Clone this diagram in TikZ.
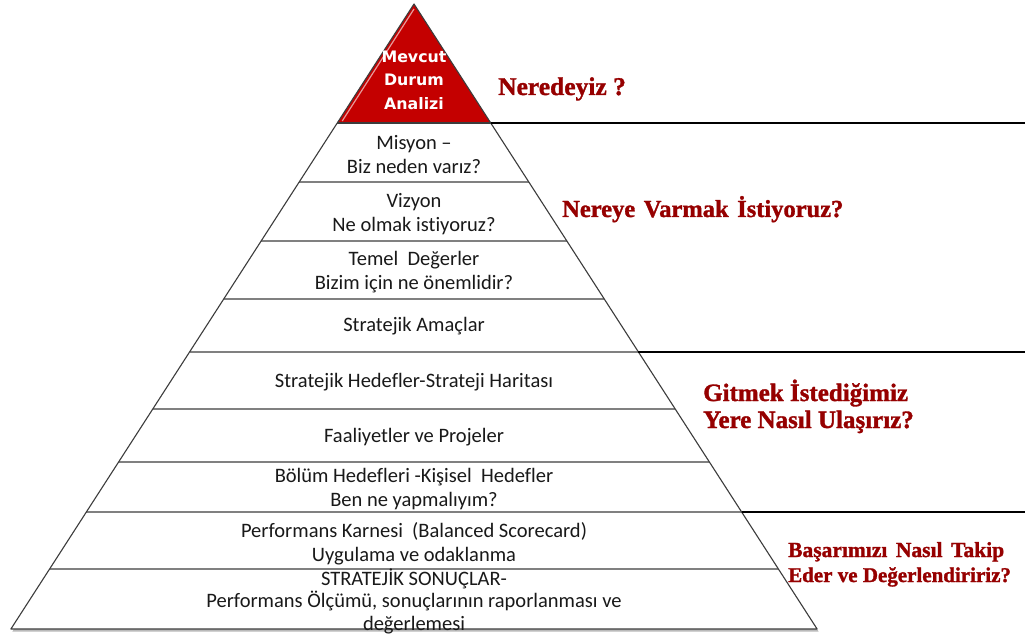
\documentclass[tikz,border=0pt]{standalone}
\usepackage{fontspec}
\setmainfont{Carlito}[Ligatures={NoCommon}]
\newfontfamily\redfont{Liberation Serif}[BoldFeatures={FakeBold=1.3}]
\newfontfamily\boxfont{DejaVu Sans}
\usetikzlibrary{calc,shadows}
\definecolor{darkred}{RGB}{150,0,0}
\definecolor{trired}{RGB}{196,0,0}
\definecolor{sepgray}{RGB}{128,128,128}
\definecolor{edgegray}{RGB}{60,60,60}
\tikzset{
  layertext/.style={align=center,inner sep=0pt,font=\fontsize{20.5}{24}\selectfont,text=black!90},
  question/.style={anchor=base west,inner sep=0pt,text=darkred,font=\redfont\bfseries\fontsize{25}{28}\selectfont},
  questionsmall/.style={anchor=base west,inner sep=0pt,text=darkred,font=\redfont\bfseries\fontsize{21.5}{25}\selectfont},
  sepline/.style={draw=sepgray,line width=1.3pt},
  pyredge/.style={draw=edgegray,line width=1.1pt,line join=round},
  thickline/.style={draw=black,line width=2.6pt},
  toptext/.style={align=center,inner sep=0pt,text=white,font=\boxfont\bfseries\fontsize{15.8}{23.5}\selectfont}
}
\begin{document}
\begin{tikzpicture}[x=1pt,y=-1pt]
\useasboundingbox (0,0) rectangle (1025,636);
\fill[white] (0,0) rectangle (1025,636);
\coordinate (apex) at (414,4);
\coordinate (BL) at (10.9,629);
\coordinate (BR) at (817.1,629);
\foreach \yy [count=\i] in {123,182,241,299,352,409,462,512,569} {
  \coordinate (L\i) at ($(apex)!{(\yy-4)/625}!(BL)$);
  \coordinate (R\i) at ($(apex)!{(\yy-4)/625}!(BR)$);
}
% pyramid body
\fill[white,drop shadow={shadow xshift=1.5pt,shadow yshift=-2.5pt,fill=black!45,opacity=0.6}] (apex) -- (BL) -- (BR) -- cycle;
% red top
\fill[trired] (apex) -- (L1) -- (R1) -- cycle;
\draw[white!60!trired,line width=1.2pt,line join=round] ($(apex)+(0,5)$) -- ($(L1)+(5,-2)$);
% separators
\foreach \i in {2,...,9} { \draw[sepline] (L\i) -- (R\i); }
\draw[pyredge] (L1) -- (R1);
\draw[pyredge] (apex) -- (BL) -- (BR) -- cycle;
% right lines
\draw[thickline] (R1) -- (R1 -| 1025,0);
\draw[thickline] (R5) -- (R5 -| 1025,0);
\draw[thickline] (R8) -- (R8 -| 1025,0);
% texts
\node[toptext] (t0) at (414,80) {Mevcut\\Durum\\Analizi};
\node[layertext] (t1) at (414,155) {Misyon –\\Biz neden varız?};
\node[layertext] (t2) at (414,214) {Vizyon\\Ne olmak istiyoruz?};
\node[layertext] (t3) at (414,272) {Temel\ \ Değerler\\Bizim için ne önemlidir?};
\node[layertext] (t4) at (414,326) {Stratejik Amaçlar};
\node[layertext] (t5) at (414,382) {Stratejik Hedefler-Strateji Haritası};
\node[layertext] (t6) at (414,437) {Faaliyetler ve Projeler};
\node[layertext] (t7) at (414,489) {Bölüm Hedefleri -Kişisel\ \ Hedefler\\Ben ne yapmalıyım?};
\node[layertext] (t8) at (414,544) {Performans Karnesi\ \ (Balanced Scorecard)\\Uygulama ve odaklanma};
\node[layertext,font=\fontsize{20.5}{22.5}\selectfont] (t9) at (414,601) {STRATEJİK SONUÇLAR-\\Performans Ölçümü, sonuçlarının raporlanması ve\\değerlemesi};
% questions
\node[question,font=\redfont\bfseries\fontsize{25.5}{28}\selectfont] (q1) at (498,95) {Neredeyiz ?};
\node[question,font=\redfont\bfseries\fontsize{24.5}{28}\selectfont] (q2) at (562,217) {Nereye\hspace{0.35em}Varmak\hspace{0.35em}İstiyoruz?};
\node[question] (q3a) at (703,401) {Gitmek İstediğimiz};
\node[question] (q3b) at (703,428) {Yere Nasıl Ulaşırız?};
\node[questionsmall] (q4a) at (788,557) {Başarımızı\hspace{0.4em}Nasıl\hspace{0.4em}Takip};
\node[questionsmall,font=\redfont\bfseries\fontsize{21}{25}\selectfont] (q4b) at (788,582) {Eder ve Değerlendiririz?};
\end{tikzpicture}
\end{document}
